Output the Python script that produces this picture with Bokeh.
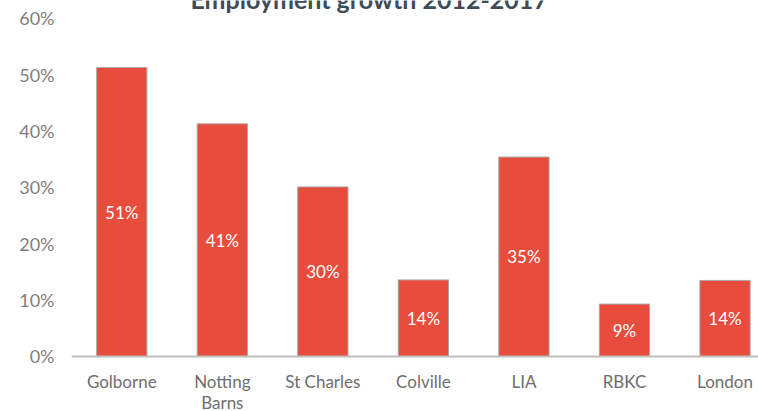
from bokeh.plotting import figure
from bokeh.models import Range1d, FixedTicker, PrintfTickFormatter, ColumnDataSource, Span
from bokeh.embed import file_html
from bokeh.resources import INLINE
from bokeh.core.properties import value

categories = ["Golborne", "Notting\nBarns", "St Charles", "Colville", "LIA", "RBKC", "London"]
growth = [51.3, 41.3, 30.1, 13.6, 35.4, 9.3, 13.5]
bar_labels = ["51%", "41%", "30%", "14%", "35%", "9%", "14%"]
y_ticks = [0, 10, 20, 30, 40, 50, 60]
title_text = "Employment growth 2012-2017"

xs = [i + 0.5 for i in range(len(categories))]
mids = [v / 2 for v in growth]
src = ColumnDataSource(dict(x=xs, top=growth, mid=mids, label=bar_labels, name=categories))

FONT = "Lato"

# frame spans the full height; 0% sits at 356px and 60% at 18px from the top
p = figure(width=758, height=411, output_backend="svg", toolbar_location=None,
           x_range=Range1d(0, 6.833), y_range=Range1d(-9.764, 63.195),
           x_axis_location=None,
           min_border_left=71, min_border_right=0, min_border_top=0, min_border_bottom=0)
p.outline_line_color = None
p.grid.visible = False
p.background_fill_color = "white"
p.border_fill_color = "white"

p.vbar(x="x", top="top", bottom=0, width=0.5, source=src,
       fill_color="#E74C3C", line_color="#A8A8A8", line_width=1)
p.text(x="x", y="mid", text="label", source=src, text_color="white",
       text_font=value(FONT), text_font_size="17px",
       text_align="center", text_baseline="middle")

# baseline (category axis line)
p.add_layout(Span(location=0, dimension="width", line_color="#BFBFBF", line_width=2))

# category names under the baseline
p.text(x="x", y=-2.66, text="name", source=src, text_color="#6E6E6E",
       text_font=value(FONT), text_font_size="17px",
       text_align="center", text_baseline="top", text_line_height=1.0)

# y axis
p.yaxis.ticker = FixedTicker(ticks=y_ticks)
p.yaxis.formatter = PrintfTickFormatter(format="%d%%")
p.yaxis.axis_line_color = None
p.yaxis.major_tick_line_color = None
p.yaxis.minor_tick_line_color = None
p.yaxis.major_tick_out = 0
p.yaxis.major_label_standoff = 17
p.yaxis.major_label_text_font = FONT
p.yaxis.major_label_text_font_size = "18px"
p.yaxis.major_label_text_color = "#808080"

# chart title (only its lower edge falls inside the picture)
p.text(x=[2.96], y=[63.55], text=[title_text], text_align="center", text_baseline="alphabetic",
       text_font=value(FONT), text_font_style="bold", text_font_size="25px",
       text_color="#3E4C59")

open("out.html", "w").write(file_html(p, INLINE))
